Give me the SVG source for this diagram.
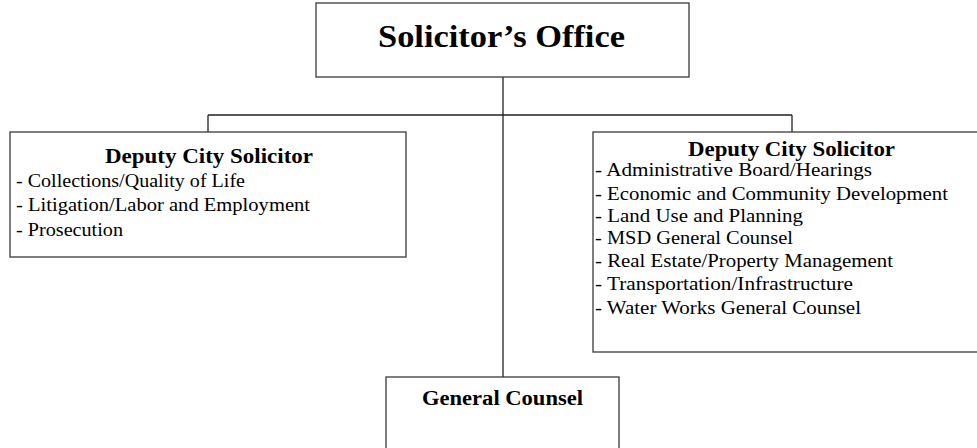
<svg xmlns="http://www.w3.org/2000/svg" width="977" height="448" viewBox="0 0 977 448">
<style>
.box{fill:#fff;stroke:#3a3a3a;stroke-width:1.3}
.ln{fill:none;stroke:#222;stroke-width:1.3}
text{font-family:"Liberation Serif","Times New Roman",serif;fill:#000}
.t{font-weight:bold}
.i{font-size:19px}
</style>
<rect width="977" height="448" fill="#fff"/>
<g id="connectors">
<path class="ln" d="M503 77V377M208 115H792M208 115V132M792 115V132"/>
</g>
<g id="solicitors-office">
<rect class="box" x="316" y="3" width="373" height="74"/>
<text class="t" x="501.5" y="47" font-size="32" text-anchor="middle" textLength="247" lengthAdjust="spacingAndGlyphs">Solicitor’s Office</text>
</g>
<g id="deputy-left">
<rect class="box" x="10" y="132" width="396" height="125"/>
<text class="t" x="209" y="163" font-size="20" text-anchor="middle" textLength="208" lengthAdjust="spacingAndGlyphs">Deputy City Solicitor</text>
<text class="i" x="16" y="187" textLength="229" lengthAdjust="spacingAndGlyphs">- Collections/Quality of Life</text>
<text class="i" x="16" y="211" textLength="294" lengthAdjust="spacingAndGlyphs">- Litigation/Labor and Employment</text>
<text class="i" x="16" y="236" textLength="107" lengthAdjust="spacingAndGlyphs">- Prosecution</text>
</g>
<g id="deputy-right">
<rect class="box" x="593" y="132" width="390" height="220"/>
<text class="t" x="791.5" y="156" font-size="20" text-anchor="middle" textLength="207" lengthAdjust="spacingAndGlyphs">Deputy City Solicitor</text>
<text class="i" x="595" y="176" textLength="277" lengthAdjust="spacingAndGlyphs">- Administrative Board/Hearings</text>
<text class="i" x="595" y="200" textLength="353" lengthAdjust="spacingAndGlyphs">- Economic and Community Development</text>
<text class="i" x="595" y="222" textLength="208" lengthAdjust="spacingAndGlyphs">- Land Use and Planning</text>
<text class="i" x="595" y="244" textLength="198" lengthAdjust="spacingAndGlyphs">- MSD General Counsel</text>
<text class="i" x="595" y="267" textLength="298" lengthAdjust="spacingAndGlyphs">- Real Estate/Property Management</text>
<text class="i" x="595" y="290" textLength="258" lengthAdjust="spacingAndGlyphs">- Transportation/Infrastructure</text>
<text class="i" x="595" y="314" textLength="266" lengthAdjust="spacingAndGlyphs">- Water Works General Counsel</text>
</g>
<g id="general-counsel">
<rect class="box" x="386" y="377" width="233" height="80"/>
<text class="t" x="502.5" y="405" font-size="20" text-anchor="middle" textLength="161" lengthAdjust="spacingAndGlyphs">General Counsel</text>
</g>
</svg>
